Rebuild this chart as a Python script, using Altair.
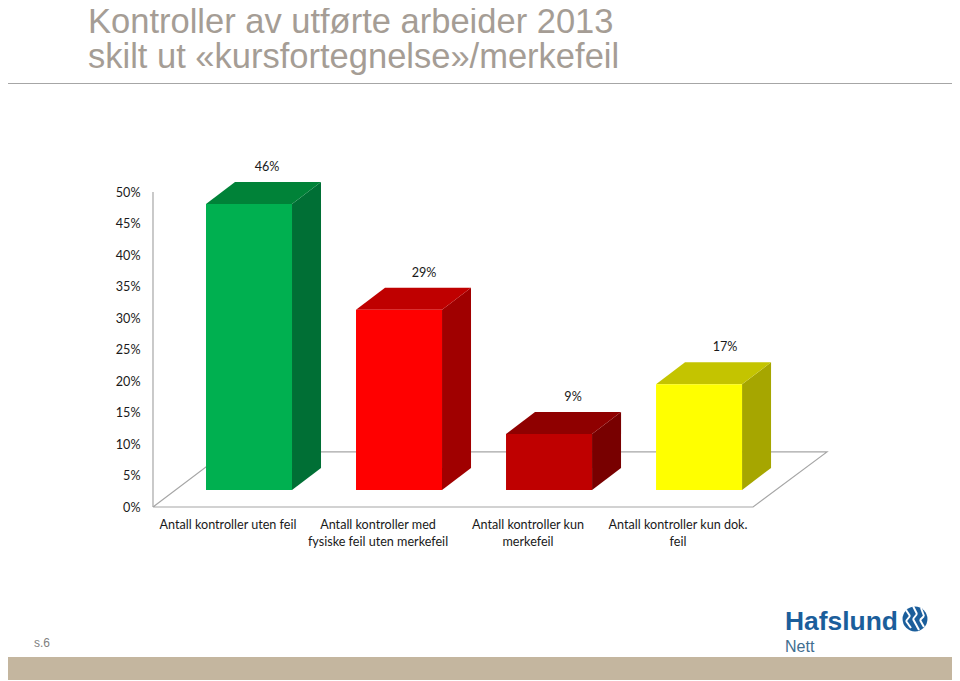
import altair as alt
import pandas as pd

# ---- values
categories = ["Antall kontroller uten feil", "Antall kontroller med\nfysiske feil uten merkefeil",
              "Antall kontroller kun\nmerkefeil", "Antall kontroller kun dok.\nfeil"]
values = [46, 29, 9, 17]
front_colors = ["#00B050", "#FF0000", "#BF0000", "#FFFF00"]
top_colors = ["#008238", "#BF0000", "#8F0000", "#C4C400"]
side_colors = ["#006F35", "#A00000", "#780000", "#A6A600"]
y_ticks = list(range(0, 55, 5))
title_lines = ["Kontroller av utførte arbeider 2013", "skilt ut «kursfortegnelse»/merkefeil"]

# ---- layout
W, H = 674, 315
PAD = dict(left=145, top=184, right=125, bottom=173)
XDOM = [-0.64, 3.853]
BAR_HALF = 0.2867
DX = 0.1933          # depth, in category units
DY = 3.49            # depth, in percent units
BASE = 2.7           # front face floor level
K = 0.987            # bar height per percent on the axis scale
LABEL_DX = [0.12, 0.167, 0.16, 0.173]
LABEL_UP = 2.4
CAT_DX = -0.14
LABEL_FONT = dict(font="Lato", fontSize=12.6, color="#1a1a1a")

x_scale = alt.Scale(domain=XDOM, range=[0, W], nice=False, zero=False)
y_scale = alt.Scale(domain=[0, 50], range=[H, 0], nice=False, zero=False)
y_axis = alt.Axis(values=y_ticks, labelExpr="datum.value + '%'", title=None, grid=False, domain=False,
                  ticks=False, labelPadding=13, labelFont="Lato", labelFontSize=12.6, labelColor="#1a1a1a")
X = lambda f: alt.X(f, type="quantitative", scale=x_scale, axis=None)
Y = lambda f: alt.Y(f, type="quantitative", scale=y_scale, axis=y_axis)

fronts, sides, tops, labels = [], [], [], []
for i, v in enumerate(values):
    xl, xr = i - BAR_HALF, i + BAR_HALF
    yt = BASE + v * K
    fronts.append(dict(xl=xl, xr=xr, y0=BASE, y1=yt, c=front_colors[i]))
    sides.append(dict(k=i, x=xr, y=yt, y2=BASE, c=side_colors[i]))
    sides.append(dict(k=i, x=xr + DX, y=yt + DY, y2=BASE + DY, c=side_colors[i]))
    tops.append(dict(k=i, y=yt, x=xl, x2=xr, c=top_colors[i]))
    tops.append(dict(k=i, y=yt + DY, x=xl + DX, x2=xr + DX, c=top_colors[i]))
    labels.append(dict(x=i + LABEL_DX[i], y=yt + DY + LABEL_UP, t=f"{v}%"))

floor = [
    dict(k="f", o=0, x=XDOM[0], y=0), dict(k="f", o=1, x=3.36, y=0),
    dict(k="f", o=2, x=XDOM[1], y=8.75), dict(k="f", o=3, x=-0.153, y=8.75),
    dict(k="f", o=4, x=XDOM[0], y=0),
    dict(k="w", o=0, x=XDOM[0], y=0), dict(k="w", o=1, x=XDOM[0], y=50),
]
floor_layer = alt.Chart(pd.DataFrame(floor)).mark_line(color="#A6A6A6", strokeWidth=1.2).encode(
    x=X("x"), y=Y("y"), order="o:Q", detail="k:N")

front_layer = alt.Chart(pd.DataFrame(fronts)).mark_rect().encode(
    x=X("xl"), x2="xr", y=Y("y0"), y2="y1", color=alt.Color("c:N", scale=None))
side_layer = alt.Chart(pd.DataFrame(sides)).mark_area().encode(
    x=X("x"), y=Y("y"), y2="y2", detail="k:N", color=alt.Color("c:N", scale=None))
top_layer = alt.Chart(pd.DataFrame(tops)).mark_area(orient="horizontal").encode(
    y=Y("y"), x=X("x"), x2="x2", detail="k:N", color=alt.Color("c:N", scale=None))
label_layer = alt.Chart(pd.DataFrame(labels)).mark_text(**LABEL_FONT).encode(
    x=X("x"), y=Y("y"), text="t:N")

cat_df = pd.DataFrame({"x": [i + CAT_DX for i in range(4)], "t": categories})
cat_layer = alt.Chart(cat_df).mark_text(lineBreak="\n", lineHeight=17, baseline="top", align="center",
                                         **LABEL_FONT).encode(
    x=X("x"), y=alt.value(H + 12), text="t:N")

ONE = pd.DataFrame({"a": [0]})
OX, OY = 153, 192   # page position of the plot origin


def page_text(txt, px, py, **kw):
    return alt.Chart(pd.DataFrame({"t": [txt]})).mark_text(align="left", baseline="alphabetic", **kw).encode(
        x=alt.value(px - OX), y=alt.value(py - OY), text="t:N")


def page_rect(x0, x1, y0, y1, color):
    return alt.Chart(ONE).mark_rect(color=color).encode(
        x=alt.value(x0 - OX), x2=alt.value(x1 - OX), y=alt.value(y0 - OY), y2=alt.value(y1 - OY))


TITLE = dict(font="Liberation Sans", fontSize=34.5, color="#A59D95")
title1 = page_text(title_lines[0], 88, 33, **TITLE)
title2 = page_text(title_lines[1], 88, 68, **TITLE)
sep = page_rect(8, 952, 83, 84, "#A6A6A6")
band = page_rect(8, 952, 657, 680, "#C4B69F")
page_no = page_text("s.6", 34, 647, font="Liberation Sans", fontSize=12, color="#7F7F7F")
logo = page_text("Hafslund", 785, 630, font="Liberation Sans", fontSize=26.4, fontWeight="bold", color="#1B5E9B")
nett = page_text("Nett", 785, 652, font="Liberation Sans", fontSize=16, color="#3F6E90")

CX, CY = 915, 619
disc = alt.Chart(ONE).mark_point(filled=True, color="#1B5E9B", size=620, opacity=1).encode(
    x=alt.value(CX - OX), y=alt.value(CY - OY))
streams = [
    [(-9, -9), (-5, -3), (-9, 2), (-4, 9)],
    [(-2, -13), (2, -5), (-2, 0), (4, 11)],
    [(6, -11), (9, -3), (5, 1), (9, 8)],
]
wave_layers = []
for s in streams:
    for (a, b), (c, d) in zip(s[:-1], s[1:]):
        wave_layers.append(alt.Chart(ONE).mark_rule(color="white", strokeWidth=2).encode(
            x=alt.value(CX - OX + a), y=alt.value(CY - OY + b),
            x2=alt.value(CX - OX + c), y2=alt.value(CY - OY + d)))

chart = alt.layer(
    floor_layer, side_layer, top_layer, front_layer, label_layer, cat_layer,
    title1, title2, sep, band, page_no, logo, nett, disc, *wave_layers,
).properties(
    width=W, height=H, padding=PAD, autosize=alt.AutoSizeParams(type="none"),
).configure_view(stroke=None)

chart.save("out.html", embed_options={"renderer": "svg", "actions": False})
